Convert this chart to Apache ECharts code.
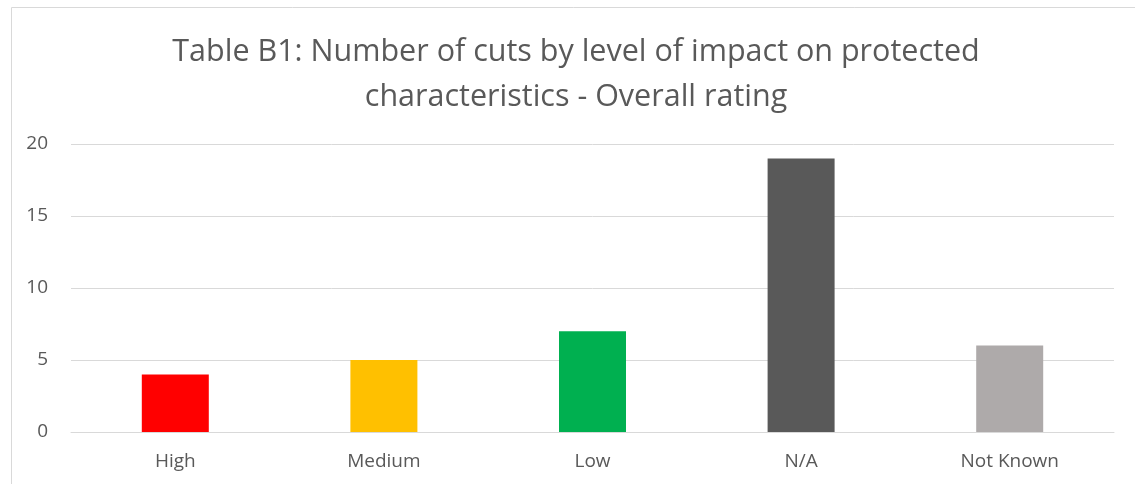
<!DOCTYPE html>
<html><head><meta charset="utf-8">
<script src="https://cdn.jsdelivr.net/npm/echarts@6/dist/echarts.min.js"></script>
<style>html,body{margin:0;padding:0;background:#fff}#c{width:1135px;height:484px}</style>
</head><body><div id="c"></div>
<script>
const categories = ["High", "Medium", "Low", "N/A", "Not Known"];
const values = [4, 5, 7, 19, 6];
const barColors = ["#FF0000", "#FFC000", "#00B050", "#595959", "#AEAAAA"];
const yTicks = [0, 5, 10, 15, 20];
const titleText = "Table B1: Number of cuts by level of impact on protected\ncharacteristics - Overall rating";

const chart = echarts.init(document.getElementById('c'), null, {renderer: 'canvas'});
chart.setOption({
  animation: false,
  title: {
    text: titleText, left: 571, textAlign: 'center', top: 25,
    textStyle: {fontFamily: 'Open Sans', fontSize: 30.5, fontWeight: 'normal', color: '#595959', lineHeight: 45}
  },
  graphic: [{type: 'rect', silent: true, shape: {x: 11.5, y: 7.5, width: 1300, height: 700},
    style: {fill: 'none', stroke: '#d9d9d9', lineWidth: 1}}],
  grid: {left: 71, right: 21, top: 144, bottom: 52, containLabel: false},
  xAxis: {
    type: 'category', data: categories,
    axisLine: {show: true, lineStyle: {color: '#d9d9d9'}}, axisTick: {show: false},
    axisLabel: {color: '#595959', fontSize: 19, fontFamily: 'Open Sans', margin: 20}
  },
  yAxis: {
    type: 'value', min: yTicks[0], max: yTicks[yTicks.length - 1], interval: 5,
    axisLine: {show: false}, axisTick: {show: false},
    splitLine: {lineStyle: {color: '#d9d9d9', width: 1}},
    axisLabel: {color: '#595959', fontSize: 19, fontFamily: 'Open Sans', margin: 23}
  },
  series: [{
    type: 'bar', barWidth: 67,
    data: values.map((v, i) => ({value: v, itemStyle: {color: barColors[i]}}))
  }]
});
</script></body></html>
